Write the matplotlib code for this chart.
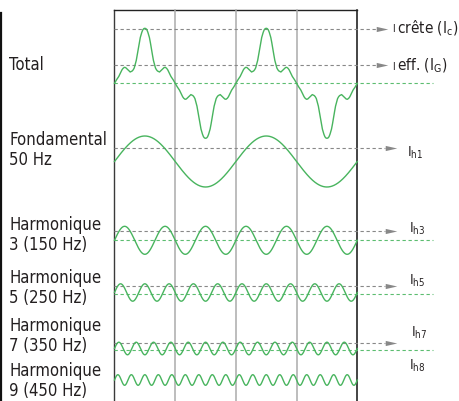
import numpy as np
import matplotlib
matplotlib.use("Agg")
import matplotlib.pyplot as plt
from matplotlib.path import Path

plt.rcParams['font.family'] = ['DejaVu Sans']
plt.rcParams['font.stretch'] = 'condensed'
plt.rcParams['mathtext.fontset'] = 'custom'

# --- data ---
# x axis: electrical degrees, the frame holds two periods of 50 Hz
period_deg = 360
n_periods = 2

# total current, one half-wave, mirrored about the crest (deg from crest, px above axis)
total_phase = [0, 3, 6, 9, 13.5, 16.5, 19.5, 22.5, 25.5, 28.5, 31.5, 34.5, 37.5,
               43.5, 48, 52.5, 57, 60.6, 64.5, 67.8, 72, 77.4, 84, 90]
total_level = [55, 54.7, 53.5, 51, 45.8, 40.5, 34.3, 28.5, 22.8, 19, 15.3, 13.5, 12.3,
               11.3, 12.8, 14.3, 15.7, 16, 15, 13.5, 10.5, 6.8, 3.5, 0]
total_crest = 54.6
total_rms = 18.0

fund_amp = 25.5
fund_rms = 13.5

harm_orders = [3, 5, 7, 9]
harm_amps = [14, 8.7, 6.3, 5.3]
harm_rms_marks = [9, 7, 5.3, None]

left_labels = ["Total", "Fondamental\n50 Hz", "Harmonique\n3 (150 Hz)",
               "Harmonique\n5 (250 Hz)", "Harmonique\n7 (350 Hz)", "Harmonique\n9 (450 Hz)"]
right_labels = ["I$_\\mathregular{h1}$", "I$_\\mathregular{h3}$", "I$_\\mathregular{h5}$",
                "I$_\\mathregular{h7}$", "I$_\\mathregular{h8}$"]

# --- layout (pixels) ---
W, H = 459, 401
box_l, box_r, box_t = 114.5, 357.3, 10
k = (box_r - box_l) / (period_deg * n_periods)   # px per degree


def px(x):
    return (x - box_l) / k


total_base = 83.3
fund_base = 161.5
harm_base = [240.3, 292.5, 348.5, 380]
harm_green = [240.3, 293.7, 350, None]

green = '#48b45e'
green_dash = '#5cbd70'
grey = '#888888'
txt = '#231f20'

fig = plt.figure(figsize=(W / 100, H / 100), dpi=100)
ax = fig.add_axes([0, 0, 1, 1])
ax.set_xlim(px(0), px(W))
ax.set_ylim(H, 0)
ax.axis('off')

end_deg = period_deg * n_periods

# frame
ax.plot([0, 0], [box_t, H], color='#3a3a3a', lw=1.0)
ax.plot([end_deg, end_deg], [box_t, H], color='#111111', lw=1.1)
ax.plot([0, end_deg], [box_t, box_t], color='#222222', lw=1.0)
for d in range(180, end_deg, 180):
    ax.plot([d, d], [box_t, H], color='#ababab', lw=1.1)
ax.plot([px(0.8), px(0.8)], [13.3, H], color='#111111', lw=1.6)

tri = Path([(-1, -0.45), (1, 0), (-1, 0.45), (-1, -0.45)],
           [Path.MOVETO, Path.LINETO, Path.LINETO, Path.CLOSEPOLY])


def arrow(y, x_tip):
    ax.plot(px(x_tip - 5.5), y, marker=tri, ms=8.3, color=grey, mec='none')


def grey_line(y, x_end):
    ax.plot([0, px(x_end)], [y, y], color=grey, lw=0.8, dashes=(3, 2.4))


def green_line(y):
    ax.plot([0, px(433)], [y, y], color=green_dash, lw=0.8, dashes=(3, 2.4))


# total waveform
phase = np.array(total_phase)
level = np.array(total_level)
xs, ys = [], []
for n in range(2 * n_periods):
    c = 90 + 180 * n
    s = 1 if n % 2 == 0 else -1
    xs.extend(list(c - phase[::-1]) + list(c + phase[1:]))
    ys.extend(list(total_base - s * level[::-1]) + list(total_base - s * level[1:]))
grey_line(total_base - total_crest, 377)
arrow(total_base - total_crest, 388)
grey_line(total_base - total_rms, 377)
arrow(total_base - total_rms, 388)
green_line(total_base)
ax.plot(xs, ys, color=green, lw=1.0)

theta = np.linspace(0, end_deg, 2000)

# fundamental
grey_line(fund_base - fund_rms, 385)
arrow(fund_base - fund_rms, 397)
ax.plot(theta, fund_base - fund_amp * np.sin(np.radians(theta)), color=green, lw=1.0)

# harmonics
for order, amp, base, gy, rm in zip(harm_orders, harm_amps, harm_base, harm_green, harm_rms_marks):
    if rm is not None:
        grey_line(base - rm, 385)
        arrow(base - rm, 397)
    if gy is not None:
        green_line(gy)
    ax.plot(theta, base - amp * np.sin(np.radians(order * theta)), color=green, lw=1.0)

# left labels
left_y = [70, 145, 230, 283.3, 331, 376.5]
for lab, y in zip(left_labels, left_y):
    for i, line in enumerate(lab.split("\n")):
        ax.text(px(9), y + i * 19.8, line, fontsize=12, color=txt, va='baseline', ha='left')

# right labels
ax.text(px(392.5), 32.5, "I", fontsize=7.5, color=txt, va='baseline', ha='left')
ax.text(px(397.5), 33, "crête (I$_\\mathregular{c}$)", fontsize=11, color=txt, va='baseline', ha='left')
ax.text(px(392.5), 69.5, "I", fontsize=7.5, color=txt, va='baseline', ha='left')
ax.text(px(397.5), 70, "eff. (I$_\\mathregular{G}$)", fontsize=11, color=txt, va='baseline', ha='left')

right_pos = [(407, 157), (409, 232.7), (409.3, 285), (410.7, 336.7), (409.3, 369.3)]
for lab, (x, y) in zip(right_labels, right_pos):
    ax.text(px(x), y, lab, fontsize=10, color=txt, va='baseline', ha='left')

fig.savefig("out.png", dpi=100)
